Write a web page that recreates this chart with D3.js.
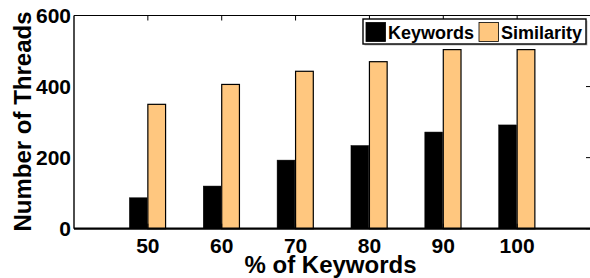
<!DOCTYPE html>
<html>
<head>
<style>
body { margin: 0; background: #fff; }
svg { display: block; font-family: "Liberation Sans", Arial, sans-serif; font-weight: bold; }
</style>
<script src="https://d3js.org/d3.v7.min.js"></script>
</head>
<body>
<svg id="chart" width="590" height="278"></svg>
<script>
var categories = [50, 60, 70, 80, 90, 100];
var keywords = [87, 120, 193, 234, 272, 292];
var similarity = [350, 406, 443, 470, 504, 504];
var yTicks = [0, 200, 400, 600];
var seriesNames = ["Keywords", "Similarity"];
var colors = ["#000000", "#ffc77f"];

var svg = d3.select("#chart");
var pLeft = 74, pRight = 591, pTop = 15.5, pBottom = 228.7;

var x = d3.scaleLinear().domain([40, 110]).range([pLeft, pRight]);
var y = d3.scaleLinear().domain([0, 600]).range([pBottom, pTop]);

// bars (width and offsets in data units)
var bw = 2.4;
var offs = [-1.3, 1.2];
[keywords, similarity].forEach(function(vals, s) {
	svg.append("g").selectAll("rect")
		.data(vals)
		.enter().append("rect")
		.attr("x", function(d, i) { return x(categories[i] + offs[s] - bw / 2); })
		.attr("width", x(bw) - x(0))
		.attr("y", function(d) { return y(d); })
		.attr("height", function(d) { return y(0) - y(d); })
		.attr("fill", colors[s])
		.attr("stroke", "#000")
		.attr("stroke-width", s == 1 ? 1.2 : 0.5);
});

// frame: top line, left line (right one falls off the picture)
svg.append("line").attr("x1", pLeft).attr("x2", pRight).attr("y1", pTop).attr("y2", pTop)
	.attr("stroke", "#000").attr("stroke-width", 1.2);
svg.append("line").attr("x1", pLeft).attr("x2", pLeft).attr("y1", pTop).attr("y2", pBottom)
	.attr("stroke", "#000").attr("stroke-width", 1.4);

// x ticks inward at bottom and top
categories.forEach(function(c) {
	svg.append("line").attr("x1", x(c)).attr("x2", x(c)).attr("y1", pBottom).attr("y2", pBottom - 5)
		.attr("stroke", "#000").attr("stroke-width", 1);
	svg.append("line").attr("x1", x(c)).attr("x2", x(c)).attr("y1", pTop).attr("y2", pTop + 5)
		.attr("stroke", "#000").attr("stroke-width", 1);
});
// y ticks on right side
yTicks.forEach(function(t) {
	svg.append("line").attr("x1", pRight).attr("x2", pRight - 5).attr("y1", y(t)).attr("y2", y(t))
		.attr("stroke", "#000").attr("stroke-width", 1);
});

svg.append("line").attr("x1", pLeft).attr("x2", pRight).attr("y1", pBottom).attr("y2", pBottom)
	.attr("stroke", "#000").attr("stroke-width", 2.2);

// tick labels
svg.append("g").selectAll("text")
	.data(categories)
	.enter().append("text")
	.attr("x", function(d) { return x(d); })
	.attr("y", 253)
	.attr("text-anchor", "middle")
	.attr("font-size", 21)
	.text(function(d) { return d; });

svg.append("g").selectAll("text")
	.data(yTicks)
	.enter().append("text")
	.attr("x", 71)
	.attr("y", function(d) { return y(d) + 7.5; })
	.attr("text-anchor", "end")
	.attr("font-size", 21)
	.text(function(d) { return d; });

// axis titles
svg.append("text")
	.attr("x", (pLeft + pRight) / 2 - 2)
	.attr("y", 272.5)
	.attr("text-anchor", "middle")
	.attr("font-size", 24)
	.text("% of Keywords");

svg.append("text")
	.attr("transform", "translate(31,121.5) rotate(-90)")
	.attr("text-anchor", "middle")
	.attr("font-size", 24)
	.text("Number of Threads");

// legend
var lg = svg.append("g");
lg.append("rect").attr("x", 364.5).attr("y", 20.5).attr("width", 223).attr("height", 25)
	.attr("fill", "#bbb");
lg.append("rect").attr("x", 363).attr("y", 19).attr("width", 223).attr("height", 25)
	.attr("fill", "#fff").attr("stroke", "#000").attr("stroke-width", 1.4);
var lx = [366, 479];
seriesNames.forEach(function(n, i) {
	lg.append("rect").attr("x", lx[i]).attr("y", 22.5).attr("width", 19.5).attr("height", 19)
		.attr("fill", colors[i]).attr("stroke", "#000").attr("stroke-width", 0.8);
	lg.append("text").attr("x", lx[i] + 22).attr("y", 38.5)
		.attr("font-size", 18)
		.text(n);
});
</script>
</body>
</html>
